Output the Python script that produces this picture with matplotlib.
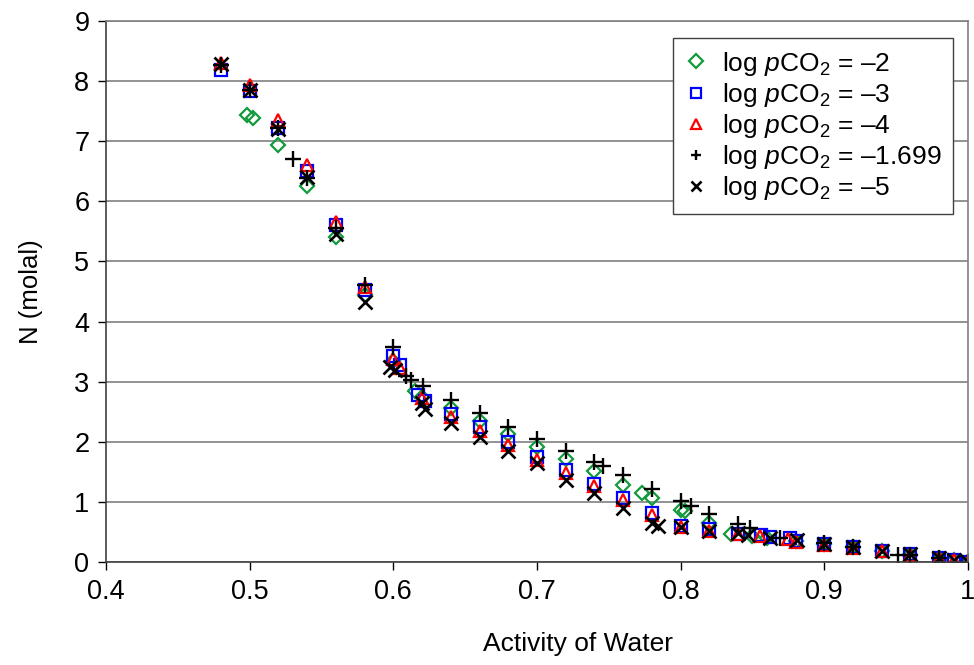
import matplotlib
matplotlib.use("Agg")
import matplotlib.pyplot as plt

plt.rcParams['font.family'] = ['Liberation Sans', 'DejaVu Sans']
plt.rcParams['mathtext.fontset'] = 'custom'
plt.rcParams['mathtext.rm'] = 'Liberation Sans'
plt.rcParams['mathtext.it'] = 'Liberation Sans:italic'

# log pCO2 = -2 (green diamonds)
x_m2 = [0.498, 0.502, 0.52, 0.54, 0.56, 0.58, 0.60, 0.615, 0.62, 0.64, 0.66, 0.68, 0.70, 0.72, 0.74,
        0.76, 0.773, 0.78, 0.80, 0.803, 0.82, 0.835, 0.85, 0.86, 0.88, 0.90, 0.92, 0.94, 0.96, 0.98, 0.99, 1.0]
y_m2 = [7.43, 7.38, 6.93, 6.25, 5.40, 4.45, 3.35, 2.84, 2.75, 2.56, 2.35, 2.13, 1.92, 1.71, 1.51,
        1.28, 1.15, 1.06, 0.87, 0.85, 0.65, 0.47, 0.43, 0.40, 0.35, 0.30, 0.25, 0.18, 0.11, 0.06, 0.03, 0.0]

# log pCO2 = -3 (blue squares)
x_m3 = [0.48, 0.50, 0.52, 0.54, 0.56, 0.58, 0.60, 0.605, 0.617, 0.622, 0.64, 0.66, 0.68, 0.70, 0.72,
        0.74, 0.76, 0.78, 0.80, 0.82, 0.84, 0.856, 0.862, 0.876, 0.88, 0.90, 0.92, 0.94, 0.96, 0.98, 0.99, 1.0]
y_m3 = [8.18, 7.83, 7.22, 6.50, 5.60, 4.53, 3.42, 3.28, 2.78, 2.68, 2.46, 2.24, 2.00, 1.75, 1.53,
        1.30, 1.07, 0.82, 0.60, 0.55, 0.47, 0.45, 0.42, 0.40, 0.35, 0.30, 0.25, 0.19, 0.13, 0.07, 0.04, 0.0]

# log pCO2 = -4 (red triangles)
x_m4 = [0.48, 0.50, 0.52, 0.54, 0.56, 0.58, 0.60, 0.605, 0.62, 0.64, 0.66, 0.68, 0.70, 0.72, 0.74,
        0.76, 0.78, 0.80, 0.82, 0.84, 0.855, 0.875, 0.88, 0.90, 0.92, 0.94, 0.96, 0.98, 0.99, 1.0]
y_m4 = [8.30, 7.93, 7.35, 6.60, 5.65, 4.57, 3.38, 3.22, 2.72, 2.41, 2.18, 1.95, 1.70, 1.48, 1.26,
        1.03, 0.78, 0.58, 0.52, 0.46, 0.43, 0.39, 0.34, 0.29, 0.24, 0.18, 0.12, 0.06, 0.03, 0.0]

# log pCO2 = -1.699 (plus)
x_m1699 = [0.48, 0.50, 0.52, 0.53, 0.54, 0.56, 0.58, 0.60, 0.609, 0.612, 0.621, 0.64, 0.66, 0.68, 0.70,
           0.72, 0.74, 0.746, 0.76, 0.78, 0.80, 0.807, 0.82, 0.84, 0.848, 0.869, 0.90, 0.92, 0.951,
           0.96, 0.98, 1.0]
y_m1699 = [8.27, 7.85, 7.22, 6.70, 6.38, 5.55, 4.60, 3.57, 3.09, 3.03, 2.93, 2.70, 2.48, 2.25, 2.05,
           1.84, 1.66, 1.60, 1.44, 1.21, 1.02, 0.93, 0.80, 0.63, 0.57, 0.40, 0.31, 0.25, 0.11,
           0.12, 0.06, 0.0]

# log pCO2 = -5 (x)
x_m5 = [0.48, 0.50, 0.52, 0.54, 0.56, 0.58, 0.598, 0.601, 0.62, 0.622, 0.64, 0.66, 0.68, 0.70, 0.72,
        0.74, 0.76, 0.78, 0.784, 0.80, 0.82, 0.84, 0.847, 0.862, 0.881, 0.90, 0.92, 0.94, 0.96, 0.98,
        0.99, 1.0]
y_m5 = [8.28, 7.85, 7.20, 6.40, 5.45, 4.32, 3.24, 3.20, 2.64, 2.55, 2.32, 2.08, 1.84, 1.64, 1.37,
        1.14, 0.89, 0.65, 0.60, 0.58, 0.52, 0.48, 0.45, 0.40, 0.36, 0.30, 0.25, 0.19, 0.13, 0.07,
        0.04, 0.0]

labels = [r'log $p$CO$_2$ = –2', r'log $p$CO$_2$ = –3', r'log $p$CO$_2$ = –4',
          r'log $p$CO$_2$ = –1.699', r'log $p$CO$_2$ = –5']
x_ticks = [0.4, 0.5, 0.6, 0.7, 0.8, 0.9, 1.0]
x_ticklabels = ['0.4', '0.5', '0.6', '0.7', '0.8', '0.9', '1']
y_ticks = list(range(0, 10))

fig = plt.figure(figsize=(9.74, 6.65), dpi=100)
ax = fig.add_axes([0.1088, 0.1549, 0.885, 0.8135])

ax.plot(x_m2, y_m2, linestyle='none', marker='D', markersize=7, markerfacecolor='none',
        markeredgecolor='#139a3c', markeredgewidth=1.6, label=labels[0])
ax.plot(x_m3, y_m3, linestyle='none', marker='s', markersize=8, markerfacecolor='none',
        markeredgecolor='#0000ff', markeredgewidth=1.6, label=labels[1])
ax.plot(x_m4, y_m4, linestyle='none', marker='^', markersize=9, markerfacecolor='none',
        markeredgecolor='#ff0000', markeredgewidth=1.6, label=labels[2])
ax.plot(x_m1699, y_m1699, linestyle='none', marker='+', markersize=12, color='black',
        markeredgewidth=1.7, label=labels[3])
ax.plot(x_m5, y_m5, linestyle='none', marker='x', markersize=9.5, color='black',
        markeredgewidth=1.9, label=labels[4])

ax.set_xlim(0.4, 1.0)
ax.set_ylim(0, 9)
ax.set_xticks(x_ticks)
ax.set_xticklabels(x_ticklabels)
ax.set_yticks(y_ticks)
ax.tick_params(axis='both', direction='out', length=6, width=1, labelsize=19.5, colors='black', pad=6)
ax.yaxis.grid(True, color='#808080', linewidth=1.2)
ax.set_axisbelow(True)
for s in ['top', 'right']:
    ax.spines[s].set_color('#808080')
    ax.spines[s].set_linewidth(1.2)
for s in ['left', 'bottom']:
    ax.spines[s].set_color('#404040')
    ax.spines[s].set_linewidth(1.2)

ax.set_xlabel('Activity of Water', fontsize=19, labelpad=26)
ax.xaxis.set_label_coords(0.548, -0.13)
ax.set_ylabel('N (molal)', fontsize=18.5, labelpad=22)

leg = ax.legend(loc='upper right', bbox_to_anchor=(0.983, 0.969), fontsize=19, frameon=True,
                fancybox=False, edgecolor='#404040', framealpha=1, handlelength=0.8,
                handletextpad=0.6, borderpad=0.45, labelspacing=0.12, borderaxespad=0)
leg.get_frame().set_linewidth(1.0)
for h in leg.legend_handles:
    h.set_markersize(7)

fig.savefig('out.png', dpi=100)
